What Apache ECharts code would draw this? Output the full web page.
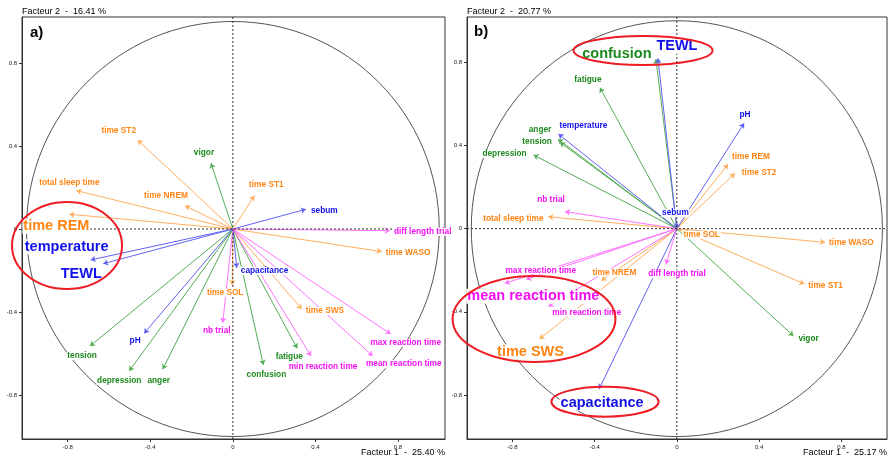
<!DOCTYPE html>
<html>
<head>
<meta charset="utf-8">
<script src="https://cdn.jsdelivr.net/npm/echarts@6/dist/echarts.min.js"></script>
<style>
  html, body { margin: 0; padding: 0; background: #fff; }
  #chart { width: 890px; height: 464px; }
</style>
</head>
<body>
<div id="chart"></div>
<script>
// Variables of the correlation circles and the family each belongs to
const variables = [
  'time ST1', 'time ST2', 'time SWS', 'time REM', 'time NREM', 'total sleep time', 'time SOL', 'time WASO',
  'vigor', 'tension', 'depression', 'anger', 'fatigue', 'confusion',
  'temperature', 'TEWL', 'capacitance', 'sebum', 'pH',
  'nb trial', 'diff length trial', 'min reaction time', 'mean reaction time', 'max reaction time'
];
const variableGroup = [
  'sleep', 'sleep', 'sleep', 'sleep', 'sleep', 'sleep', 'sleep', 'sleep',
  'mood', 'mood', 'mood', 'mood', 'mood', 'mood',
  'skin', 'skin', 'skin', 'skin', 'skin',
  'task', 'task', 'task', 'task', 'task'
];

// Panel a) correlations with factor 1 and factor 2
const factor1A = [0.104, -0.461, 0.334, -0.792, -0.232, -0.758, -0.003, 0.721,
  -0.106, -0.692, -0.502, -0.340, 0.312, 0.148,
  -0.689, -0.628, 0.019, 0.354, -0.430,
  -0.049, 0.761, 0.379, 0.678, 0.765];
const factor2A = [0.160, 0.429, -0.386, 0.071, 0.112, 0.185, -0.270, -0.109,
  0.317, -0.564, -0.684, -0.676, -0.575, -0.655,
  -0.149, -0.167, -0.187, 0.095, -0.503,
  -0.452, -0.008, -0.612, -0.612, -0.506];

// Panel b) correlations with factor 1 and factor 2
const factor1B = [0.620, 0.282, -0.668, 0.249, -0.367, -0.625, 0.008, 0.721,
  0.567, -0.568, -0.697, -0.578, -0.374, -0.102,
  -0.576, -0.092, -0.378, -0.002, 0.327,
  -0.544, -0.053, -0.625, -0.732, -0.837];
const factor2B = [-0.266, 0.266, -0.531, 0.310, -0.250, 0.057, -0.006, -0.066,
  -0.516, 0.415, 0.354, 0.430, 0.678, 0.816,
  0.455, 0.819, -0.771, 0.031, 0.507,
  0.082, -0.171, -0.375, -0.244, -0.263];

const axisTicks = [-0.8, -0.4, 0, 0.4, 0.8];
const panelTags = ['a)', 'b)'];
const factor1Titles = ['Facteur 1  -  25.40 %', 'Facteur 1  -  25.17 %'];
const factor2Titles = ['Facteur 2  -  16.41 %', 'Facteur 2  -  20.77 %'];
const highlightA = ['time REM', 'temperature', 'TEWL'];
const highlightB = ['confusion', 'TEWL', 'mean reaction time', 'time SWS', 'capacitance'];

// ---- styling / layout ----
const FONT = 'Liberation Sans, Arial, sans-serif';
const groupColors = {
  sleep: { text: '#ff8412', line: '#ffae5e' },
  mood:  { text: '#1c891c', line: '#55ad55' },
  skin:  { text: '#1010e8', line: '#6262f2' },
  task:  { text: '#f20ff2', line: '#ff72ff' }
};

// label offsets in pixels from the arrow tip: [dx, dy, align]
const labelLayoutA = {
  'time ST1': [12, -11], 'time ST2': [-19, -9], 'time SWS': [3, 2, 'left'], 'time REM': [-13, 12],
  'time NREM': [-19, -10], 'total sleep time': [-7, -8], 'time SOL': [-7, 8], 'time WASO': [3, 1, 'left'],
  'vigor': [-7, -11], 'tension': [-8, 10], 'depression': [-10, 10], 'anger': [-4, 11],
  'fatigue': [-8, 8], 'confusion': [3, 10], 'temperature': [-24, -13], 'TEWL': [-22, 10],
  'capacitance': [3, 3, 'left'], 'sebum': [4, 1, 'left'], 'pH': [-9, 7], 'nb trial': [-6, 8],
  'diff length trial': [3, 1, 'left'], 'min reaction time': [12, 11], 'mean reaction time': [31, 8],
  'max reaction time': [15, 9]
};
const labelLayoutB = {
  'time ST1': [3, 2, 'left'], 'time ST2': [6, -1, 'left'], 'time SWS': [-9, 13], 'time REM': [3, -7, 'left'],
  'time NREM': [13, -8], 'total sleep time': [-35, 2], 'time SOL': [4, 5, 'left'], 'time WASO': [3, 0, 'left'],
  'vigor': [4, 3, 'left'], 'tension': [-23, -1], 'depression': [-29, -1], 'anger': [-18, -10],
  'fatigue': [-12, -8], 'confusion': [-39, -5], 'temperature': [25, -8], 'TEWL': [19, -12],
  'capacitance': [3, 14], 'sebum': [-1, -9], 'pH': [1, -9], 'nb trial': [-14, -12],
  'diff length trial': [11, 10], 'min reaction time': [3, 6, 'left'], 'mean reaction time': [7, 17],
  'max reaction time': [36, -13]
};

// red highlight ellipses (centre and radii in factor units)
const ellipsesA = [[-0.8035, -0.0795, 0.2665, 0.2096]];
const ellipsesB = [
  [-0.1644, 0.8569, 0.338, 0.0697],
  [-0.6947, -0.4346, 0.396, 0.207],
  [-0.3494, -0.8324, 0.2608, 0.0722]
];

const panels = [
  { f1: factor1A, f2: factor2A, layout: labelLayoutA, highlight: highlightA, ellipses: ellipsesA,
    grid: { left: 22, top: 17, width: 423, height: 422 }, xRange: [-1.0216, 1.0279], yRange: [-1.012, 1.0217],
    tagPos: [30, 25] },
  { f1: factor1B, f2: factor2B, layout: labelLayoutB, highlight: highlightB, ellipses: ellipsesB,
    grid: { left: 467, top: 17, width: 423, height: 422 }, xRange: [-1.0207, 1.0222], yRange: [-1.0118, 1.018],
    tagPos: [474, 24] }
];

const tickFormatter = v => (Math.abs(v) < 1e-9 ? '0' : v.toFixed(1));
const grids = [], xAxes = [], yAxes = [], series = [], graphics = [];
const groups = ['sleep', 'mood', 'skin', 'task'];

panels.forEach((p, i) => {
  grids.push(Object.assign({ show: true, borderColor: '#333', borderWidth: 1, backgroundColor: 'transparent', containLabel: false }, p.grid));
  const axisCommon = {
    gridIndex: i, type: 'value',
    axisLine: { show: true, onZero: false, lineStyle: { color: '#333', width: 1 } },
    axisTick: { show: true, customValues: axisTicks, length: 3, lineStyle: { color: '#333' } },
    axisLabel: { customValues: axisTicks, formatter: tickFormatter, fontSize: 6, color: '#222', fontFamily: FONT, margin: 5 },
    splitLine: { show: false }, nameGap: 0, nameMoveOverlap: false
  };
  xAxes.push(Object.assign({}, axisCommon, {
    min: p.xRange[0], max: p.xRange[1],
    name: factor1Titles[i], nameLocation: 'end',
    nameTextStyle: { fontSize: 9, color: '#000', fontFamily: FONT, align: 'right', verticalAlign: 'top', padding: [9, 0, 0, 0] }
  }));
  yAxes.push(Object.assign({}, axisCommon, {
    min: p.yRange[0], max: p.yRange[1],
    name: factor2Titles[i], nameLocation: 'end',
    nameTextStyle: { fontSize: 9, color: '#000', fontFamily: FONT, align: 'left', verticalAlign: 'bottom', padding: [0, 0, 1, 0] }
  }));

  // unit correlation circle
  series.push({
    type: 'custom', xAxisIndex: i, yAxisIndex: i, z: 1, silent: true, data: [[0, 0]],
    renderItem: (params, api) => {
      const c = api.coord([0, 0]);
      const e = api.coord([1, 1]);
      return { type: 'ellipse', shape: { cx: c[0], cy: c[1], rx: e[0] - c[0], ry: c[1] - e[1] },
        style: { fill: 'none', stroke: '#555', lineWidth: 1 } };
    }
  });

  // arrows from the origin
  groups.forEach(g => {
    const idx = variables.map((v, k) => k).filter(k => variableGroup[k] === g);
    series.push({
      type: 'lines', coordinateSystem: 'cartesian2d', xAxisIndex: i, yAxisIndex: i, z: 2, silent: true,
      symbol: ['none', 'arrow'], symbolSize: 5,
      lineStyle: { color: groupColors[g].line, width: 1, opacity: 1 },
      data: idx.map(k => ({ name: variables[k], coords: [[0, 0], [p.f1[k], p.f2[k]]] }))
    });
  });

  // dotted axes through the origin
  series.push({
    type: 'custom', xAxisIndex: i, yAxisIndex: i, z: 3, silent: true, data: [[0, 0]],
    renderItem: (params, api) => {
      const top = api.coord([0, p.yRange[1]]), bottom = api.coord([0, p.yRange[0]]);
      const left = api.coord([p.xRange[0], 0]), right = api.coord([p.xRange[1], 0]);
      const st = { stroke: '#333', lineWidth: 1, lineDash: [2, 2] };
      return { type: 'group', children: [
        { type: 'line', shape: { x1: top[0], y1: top[1], x2: bottom[0], y2: bottom[1] }, style: st },
        { type: 'line', shape: { x1: left[0], y1: left[1], x2: right[0], y2: right[1] }, style: st }
      ] };
    }
  });

  // variable labels
  groups.forEach(g => {
    const idx = variables.map((v, k) => k).filter(k => variableGroup[k] === g);
    series.push({
      type: 'scatter', xAxisIndex: i, yAxisIndex: i, z: 5, silent: true, symbolSize: 1,
      itemStyle: { color: 'rgba(0,0,0,0)', opacity: 1 },
      data: idx.map(k => {
        const name = variables[k];
        const lay = p.layout[name];
        const big = p.highlight.indexOf(name) >= 0;
        return {
          name, value: [p.f1[k], p.f2[k]],
          label: {
            show: true, position: 'inside', formatter: '{b}',
            offset: [lay[0], lay[1]], align: lay[2] || 'center', verticalAlign: 'middle',
            fontSize: big ? 14.5 : 8.3, fontWeight: 'bold', fontFamily: FONT,
            color: groupColors[g].text, backgroundColor: '#fff', padding: [0, 1], opacity: 1
          }
        };
      })
    });
  });

  // red highlight rings
  series.push({
    type: 'custom', xAxisIndex: i, yAxisIndex: i, z: 6, silent: true, data: p.ellipses,
    renderItem: (params, api) => {
      const cx = api.value(0), cy = api.value(1);
      const c = api.coord([cx, cy]);
      const q = api.coord([cx + api.value(2), cy + api.value(3)]);
      return { type: 'ellipse', shape: { cx: c[0], cy: c[1], rx: q[0] - c[0], ry: c[1] - q[1] },
        style: { fill: 'none', stroke: '#ee1c24', lineWidth: 2 } };
    }
  });

  graphics.push({ type: 'text', left: p.tagPos[0], top: p.tagPos[1], z: 10,
    style: { text: panelTags[i], font: 'bold 15px ' + FONT, fill: '#000' } });
});

const chart = echarts.init(document.getElementById('chart'), null, { renderer: 'canvas' });
chart.setOption({
  animation: false,
  backgroundColor: '#fff',
  grid: grids, xAxis: xAxes, yAxis: yAxes, series: series, graphic: graphics
});
</script>
</body>
</html>
